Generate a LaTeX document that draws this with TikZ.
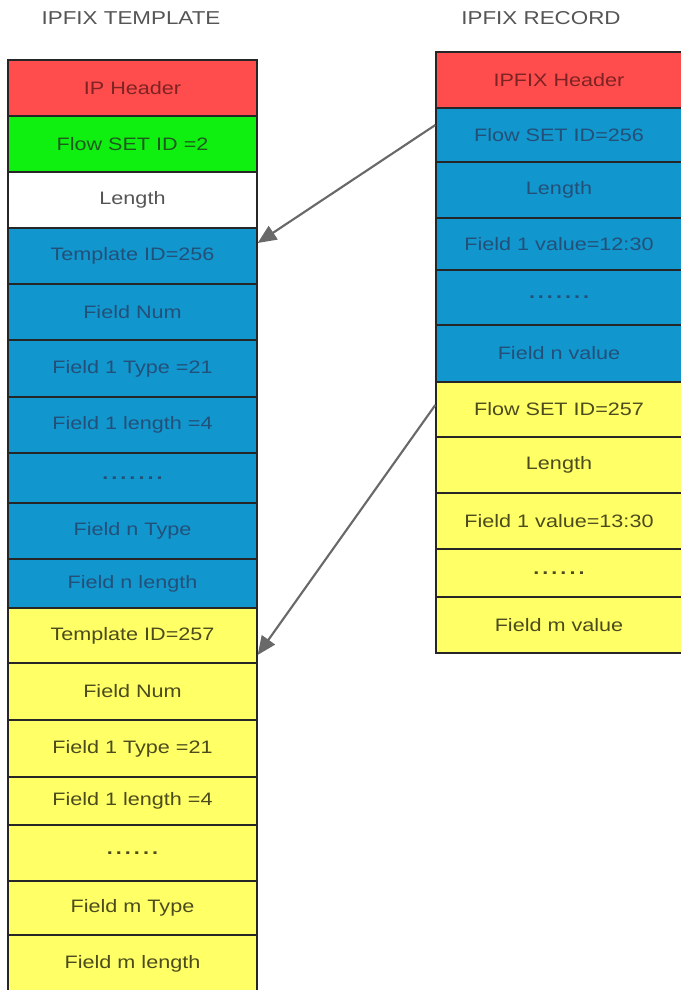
\documentclass[tikz,border=0pt]{standalone}
\usepackage{fontspec}
\setmainfont{Liberation Sans}[FakeStretch=1.2]
\usetikzlibrary{arrows.meta}
\definecolor{ipfred}{RGB}{255, 77, 77}
\definecolor{ipfredtxt}{RGB}{125, 35, 35}
\definecolor{ipfgreen}{RGB}{16, 240, 16}
\definecolor{ipfgreentxt}{RGB}{30, 90, 30}
\definecolor{ipfblue}{RGB}{18, 150, 206}
\definecolor{ipfbluetxt}{RGB}{35, 80, 120}
\definecolor{ipfyellow}{RGB}{255, 255, 102}
\definecolor{ipfyellowtxt}{RGB}{75, 75, 30}
\definecolor{ipfwhite}{RGB}{255, 255, 255}
\definecolor{ipfwhitetxt}{RGB}{85, 85, 85}
\definecolor{ipfgray}{RGB}{105, 105, 105}
\newcommand{\sevendots}{\textbf{.\,.\,.\,.\,.\,.\,.}}
\newcommand{\sixdots}{\textbf{.\,.\,.\,.\,.\,.}}
\tikzset{
  cell/.style={rectangle, draw=black!85, line width=1pt, fill=#1, text=#1txt,
               inner sep=0pt, font=\fontsize{13.5}{16}\selectfont},
  lcell/.style={cell=#1, minimum width=186.75pt},
  rcell/.style={cell=#1, minimum width=184.5pt},
  title/.style={text=ipfwhitetxt, font=\fontsize{14}{16}\selectfont},
  link/.style={-{Triangle[length=14pt, width=12pt]}, line width=1.6pt, color=ipfgray},
}

\begin{document}
\begin{tikzpicture}[x=0.75pt, y=-0.75pt]
  \useasboundingbox (0,0) rectangle (681,990);

  % Titles
  \node[title] (ttemplate) at (131,18) {IPFIX TEMPLATE};
  \node[title] (trecord) at (541,18) {IPFIX RECORD};

  % Template column
  \foreach \name/\txt/\top/\bot/\col in {
      l1/IP Header/60/116/ipfred,
      l2/Flow SET ID =2/116/172/ipfgreen,
      l3/Length/172/228/ipfwhite,
      l4/Template ID=256/228/284/ipfblue,
      l5/Field Num/284/340/ipfblue,
      l6/Field 1 Type =21/340/397/ipfblue,
      l7/Field 1 length =4/397/453/ipfblue,
      l8/\sevendots/453/503/ipfblue,
      l9/Field n Type/503/559/ipfblue,
      l10/Field n length/559/608/ipfblue,
      l11/Template ID=257/608/663/ipfyellow,
      l12/Field Num/663/720/ipfyellow,
      l13/Field 1 Type =21/720/777/ipfyellow,
      l14/Field 1 length =4/777/825/ipfyellow,
      l15/\sixdots/825/881/ipfyellow,
      l16/Field m Type/881/935/ipfyellow,
      l17/Field m length/935/993/ipfyellow} {
    \pgfmathsetmacro\h{(\bot-\top)*0.75}
    \pgfmathsetmacro\yc{(\top+\bot)/2}
    \node[lcell=\col, minimum height=\h pt] (\name) at (132.5,\yc) {\txt};
  }

  % Record column
  \foreach \name/\txt/\top/\bot/\col in {
      r1/IPFIX Header/52/108/ipfred,
      r2/Flow SET ID=256/108/162/ipfblue,
      r3/Length/162/218/ipfblue,
      r4/Field 1 value=12:30/218/270/ipfblue,
      r5/\sevendots/270/325/ipfblue,
      r6/Field n value/325/382/ipfblue,
      r7/Flow SET ID=257/382/437/ipfyellow,
      r8/Length/437/493/ipfyellow,
      r9/Field 1 value=13:30/493/549/ipfyellow,
      r10/\sixdots/549/597/ipfyellow,
      r11/Field m value/597/653/ipfyellow} {
    \pgfmathsetmacro\h{(\bot-\top)*0.75}
    \pgfmathsetmacro\yc{(\top+\bot)/2}
    \node[rcell=\col, minimum height=\h pt] (\name) at (559,\yc) {\txt};
  }

  % Links from record sets to templates
  \draw[link] ([yshift=7.5pt]r2.west) -- ([yshift=9.75pt]l4.east);
  \draw[link] ([yshift=3.4pt]r7.west) -- ([yshift=-14.6pt]l11.east);
\end{tikzpicture}
\end{document}
